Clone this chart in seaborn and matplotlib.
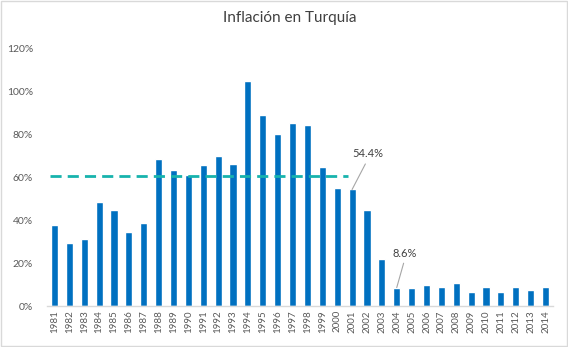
import matplotlib
matplotlib.use("Agg")
import matplotlib.pyplot as plt
import seaborn as sns
import pandas as pd
from matplotlib.ticker import PercentFormatter
from matplotlib.patches import Rectangle

years = [str(y) for y in range(1981, 2015)]
inflation = [37.8, 29.4, 31.3, 48.6, 44.8, 34.6, 38.8, 68.6, 63.5, 61.0,
             65.8, 70.0, 66.3, 105.2, 89.2, 80.3, 85.4, 84.5, 64.9, 55.1,
             54.4, 44.8, 21.9, 8.6, 8.4, 9.8, 8.9, 10.7, 6.5, 8.9,
             6.5, 8.9, 7.5, 8.9]
average_value = 60.9
average_span = ["1981", "2001"]
annotated = {"2001": "54.4%", "2004": "8.6%"}
title = "Inflación en Turquía"

df = pd.DataFrame({"year": years, "value": [v / 100 for v in inflation]})

sns.set_theme(style="white")
plt.rcParams["font.family"] = ["Lato", "DejaVu Sans"]

fig = plt.figure(figsize=(5.68, 3.47), dpi=100)
ax = fig.add_axes([47 / 568, 1 - 306 / 347, (553 - 47) / 568, (306 - 49) / 347])

sns.barplot(data=df, x="year", y="value", color="#0070C0", saturation=1,
            width=0.48, ax=ax)

i0 = years.index(average_span[0])
i1 = years.index(average_span[1])
ax.hlines(average_value / 100, i0 - 0.3, i1 - 0.3, colors="#17B3AD",
          linestyles=(0, (4, 2.2)), linewidth=2, zorder=3)

offsets = {"2001": (1.05, 0.71), "2004": (0.55, 0.247)}
for yr, label in annotated.items():
    i = years.index(yr)
    val = df.loc[i, "value"]
    dx, ty = offsets[yr]
    ax.annotate(label, xy=(i, val), xytext=(i + dx, ty), ha="center", va="center",
                fontsize=8, color="#404040",
                arrowprops=dict(arrowstyle="-", color="#A6A6A6", lw=0.8,
                                shrinkA=1, shrinkB=0, relpos=(0.5, 0)))

ax.set_ylim(0, 1.2)
ax.set_xlim(-0.5, len(years) - 0.5)
ax.set_yticks([i / 10 for i in range(0, 13, 2)])
ax.yaxis.set_major_formatter(PercentFormatter(1.0, decimals=0))
ax.set_xlabel("")
ax.set_ylabel("")
ax.tick_params(axis="x", rotation=90, labelsize=7, colors="#595959", length=0, pad=3)
ax.tick_params(axis="y", labelsize=7.5, colors="#595959", length=0, pad=10)
for s in ["top", "right", "left"]:
    ax.spines[s].set_visible(False)
ax.spines["bottom"].set_color("#D9D9D9")
ax.spines["bottom"].set_linewidth(1)
ax.grid(False)

fig.text(0.51, 1 - 18 / 347, title, ha="center", va="center", fontsize=11,
         color="#404040")
fig.patches.append(Rectangle((0.001, 0.002), 0.997, 0.995, transform=fig.transFigure,
                             fill=False, edgecolor="#D9D9D9", linewidth=1))

fig.savefig("out.png", dpi=100)
